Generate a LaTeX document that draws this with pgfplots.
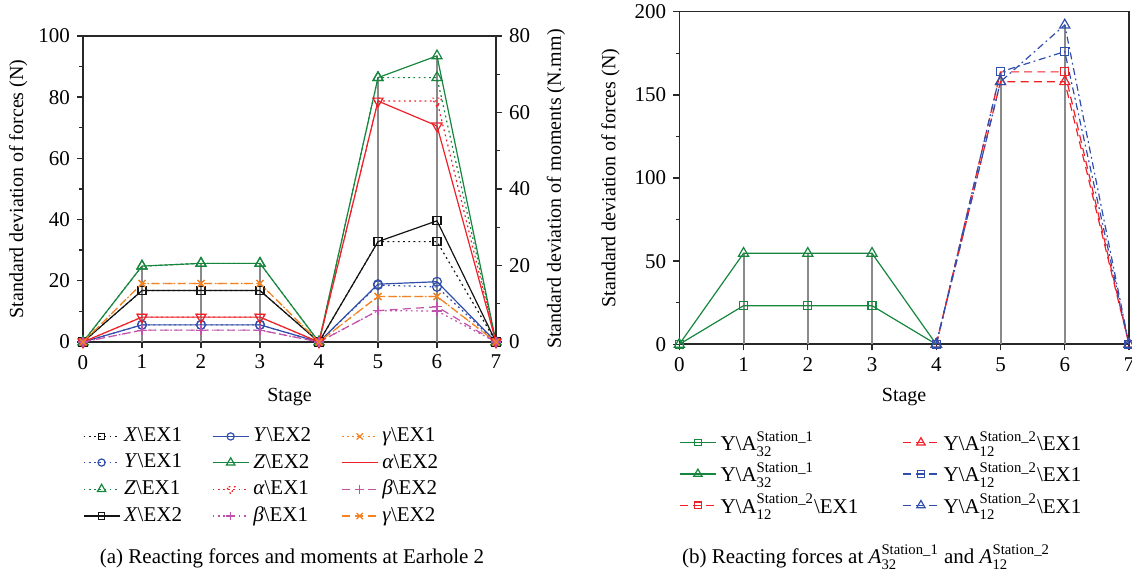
\documentclass[border=0pt]{standalone}
\usepackage{amsmath}
\usepackage{fontspec}
\setmainfont{Liberation Serif}
\usepackage{pgfplots}
\usepackage{pgfplotstable}
\pgfplotsset{compat=1.18}

\definecolor{cblack}{RGB}{20,20,20}
\definecolor{cblue}{RGB}{50,78,172}
\definecolor{cgreen}{RGB}{22,134,62}
\definecolor{cred}{RGB}{238,32,40}
\definecolor{corange}{RGB}{244,130,34}
\definecolor{cmagenta}{RGB}{192,82,172}
\definecolor{cstem}{RGB}{138,138,138}
\definecolor{caxis}{RGB}{40,40,40}

% Earhole 2: reacting forces (N)
\pgfplotstableread{
stage X1   Y1   Z1   X2   Y2   Z2
0     0    0    0    0    0    0
1     16.8 5.6  24.8 16.8 5.6  24.8
2     16.8 5.6  25.7 16.8 5.6  25.7
3     16.8 5.6  25.7 16.8 5.6  25.7
4     0    0    0    0    0    0
5     32.8 18.6 86.4 32.8 18.9 86.4
6     32.8 18.0 86.4 39.6 19.7 93.5
7     0    0    0    0    0    0
}\forces
% Earhole 2: reacting moments (N.mm)
\pgfplotstableread{
stage a1   b1  g1   a2   b2  g2
0     0    0   0    0    0   0
1     6.5  3.1 15.3 6.5  3.1 15.3
2     6.5  3.1 15.3 6.5  3.1 15.3
3     6.5  3.1 15.3 6.5  3.1 15.3
4     0    0   0    0    0   0
5     63.0 8.2 11.9 63.0 8.2 11.9
6     63.0 8.1 11.9 56.5 9.2 11.9
7     0    0   0    0    0   0
}\moments
% Station 1 (A32), stages 0-4
\pgfplotstableread{
stage sq   tri
0     0    0
1     23.2 54.7
2     23.2 54.7
3     23.2 54.7
4     0    0
}\stationone
% Station 2 (A12), stages 4-7
\pgfplotstableread{
stage rsq   rtri  bsq   btri
4     0     0     0     0
5     163.8 157.9 163.8 157.9
6     163.8 157.9 176.0 192.0
7     0     0     0     0
}\stationtwo

\newcommand{\fs}{\fontsize{10.5}{12.6}\selectfont}

\pgfplotsset{
  basestyle/.style={
    scale only axis,
    clip=false,
    axis line style={caxis, line width=0.8pt},
    tick style={caxis, line width=0.7pt},
    major tick length=3pt,
    minor tick length=1.8pt,
    tick align=outside,
    /pgf/number format/assume math mode=true,
    tick label style={font=\fs},
    label style={font=\fs},
    legend style={draw=none, fill=none, inner sep=0pt, outer sep=0pt, font=\fs,
      row sep=0.6pt},
    legend cell align=left,
    legend image code/.code={\draw[line width=0.6pt, mark repeat=2, mark phase=2, ##1]
      plot coordinates {(0pt,0pt) (9pt,0pt) (18pt,0pt)};},
    every axis plot/.append style={line width=0.6pt, mark options={solid}},
  },
  dotline/.style={dash pattern=on 0.9pt off 1.7pt},
  dashline/.style={dash pattern=on 4pt off 2.6pt},
  dashdotline/.style={dash pattern=on 3.5pt off 1.8pt on 0.9pt off 1.8pt},
}

\begin{document}
\begin{tikzpicture}
\useasboundingbox (0,0) rectangle (566pt,289pt);

%---------------- (a) forces, left scale ----------------
\begin{axis}[basestyle,
  at={(41.5pt,118pt)}, anchor=south west,
  width=206.5pt, height=153pt,
  xmin=0, xmax=7, ymin=0, ymax=100,
  xtick={0,...,7}, ytick={0,20,...,100}, minor y tick num=1,
  xtick pos=bottom, ytick pos=left,
  xlabel={Stage}, ylabel={Standard deviation of forces (N)},
  every axis x label/.style={at={(axis description cs:0.5,-0.18)}, anchor=center},
  every axis y label/.style={at={(axis description cs:-0.157,0.5)}, rotate=90, anchor=center},
]
\addplot[ycomb, cstem, line width=1pt, no markers, forget plot] table[x=stage, y=Z2] {\forces};
\addplot[cblack, dotline, mark=square, mark size=2pt, forget plot] table[x=stage, y=X1] {\forces};
\addplot[cblue, dotline, mark=o, mark size=2.2pt, forget plot] table[x=stage, y=Y1] {\forces};
\addplot[cgreen, dotline, mark=triangle, mark size=2.9pt, forget plot] table[x=stage, y=Z1] {\forces};
\addplot[cblack, mark=square, mark size=2pt, forget plot] table[x=stage, y=X2] {\forces};
\addplot[cblue, mark=o, mark size=2.2pt, forget plot] table[x=stage, y=Y2] {\forces};
\addplot[cgreen, mark=triangle, mark size=2.9pt, forget plot] table[x=stage, y=Z2] {\forces};
\end{axis}

%---------------- (a) moments, right scale ----------------
\begin{axis}[basestyle,
  at={(41.5pt,118pt)}, anchor=south west,
  width=206.5pt, height=153pt,
  xmin=0, xmax=7, ymin=0, ymax=80,
  axis x line=none, axis y line*=right,
  ytick={0,20,...,80}, minor y tick num=1,
  ylabel={Standard deviation of moments (N.mm)},
  every axis y label/.style={at={(axis description cs:1.145,0.5)}, rotate=90, anchor=center},
  legend columns=3,
  legend style={at={(axis description cs:0,-0.268)}, anchor=north west,
    /tikz/every even column/.append style={column sep=13pt}},
]
\addplot[cred, dotline, mark=triangle, mark size=2.9pt, mark options={rotate=180}, forget plot] table[x=stage, y=a1] {\moments};
\addplot[cmagenta, dotline, mark=+, mark size=2.4pt, forget plot] table[x=stage, y=b1] {\moments};
\addplot[corange, dotline, mark=x, mark size=2.4pt, forget plot] table[x=stage, y=g1] {\moments};
\addplot[cred, mark=triangle, mark size=2.9pt, mark options={rotate=180}, forget plot] table[x=stage, y=a2] {\moments};
\addplot[cmagenta, dashline, mark=+, mark size=2.4pt, forget plot] table[x=stage, y=b2] {\moments};
\addplot[corange, dashline, mark=x, mark size=2.4pt, forget plot] table[x=stage, y=g2] {\moments};

% legend, row by row
\addlegendimage{cblack, dotline, mark=square, mark size=1.6pt}
\addlegendentry{\textit{X}\textbackslash EX1}
\addlegendimage{cblue, mark=o, mark size=1.8pt}
\addlegendentry{\textit{Y}\textbackslash EX2}
\addlegendimage{corange, dotline, mark=x, mark size=2.2pt}
\addlegendentry{\textit{γ}\textbackslash EX1}
\addlegendimage{cblue, dotline, mark=o, mark size=1.8pt}
\addlegendentry{\textit{Y}\textbackslash EX1}
\addlegendimage{cgreen, mark=triangle, mark size=2.4pt}
\addlegendentry{\textit{Z}\textbackslash EX2}
\addlegendimage{cred, no markers}
\addlegendentry{\textit{α}\textbackslash EX2}
\addlegendimage{cgreen, dotline, mark=triangle, mark size=2.4pt}
\addlegendentry{\textit{Z}\textbackslash EX1}
\addlegendimage{cred, dotline, mark=triangle, mark size=2.4pt, mark options={rotate=180}}
\addlegendentry{\textit{α}\textbackslash EX1}
\addlegendimage{cmagenta, dashline, mark=+, mark size=2.2pt}
\addlegendentry{\textit{β}\textbackslash EX2}
\addlegendimage{cblack, mark=square, mark size=1.6pt}
\addlegendentry{\textit{X}\textbackslash EX2}
\addlegendimage{cmagenta, dotline, mark=+, mark size=2.2pt}
\addlegendentry{\textit{β}\textbackslash EX1}
\addlegendimage{corange, dashline, mark=x, mark size=2.2pt}
\addlegendentry{\textit{γ}\textbackslash EX2}
\end{axis}

%---------------- (b) stations ----------------
\begin{axis}[basestyle,
  at={(339.65pt,116.85pt)}, anchor=south west,
  width=224.85pt, height=166.3pt,
  xmin=0, xmax=7, ymin=0, ymax=200,
  xtick={0,...,7}, ytick={0,50,...,200}, minor y tick num=1,
  xtick pos=bottom, ytick pos=left,
  xlabel={Stage}, ylabel={Standard deviation of forces (N)},
  every axis x label/.style={at={(axis description cs:0.5,-0.16)}, anchor=center},
  every axis y label/.style={at={(axis description cs:-0.153,0.5)}, rotate=90, anchor=center},
  legend columns=2,
  legend style={at={(axis description cs:0,-0.25)}, anchor=north west,
    /tikz/every even column/.append style={column sep=20pt}},
]
\addplot[ycomb, cstem, line width=1pt, no markers, forget plot] table[x=stage, y=tri] {\stationone};
\addplot[ycomb, cstem, line width=1pt, no markers, forget plot] table[x=stage, y=bsq] {\stationtwo};
\addplot[ycomb, cstem, line width=1pt, no markers, forget plot] table[x=stage, y=btri] {\stationtwo};
\addplot[cgreen, mark=square, mark size=2pt, forget plot] table[x=stage, y=sq] {\stationone};
\addplot[cgreen, mark=triangle, mark size=2.9pt, forget plot] table[x=stage, y=tri] {\stationone};
\addplot[cred, dashline, mark=square, mark size=2pt, forget plot] table[x=stage, y=rsq] {\stationtwo};
\addplot[cred, dashline, mark=triangle, mark size=2.9pt, forget plot] table[x=stage, y=rtri] {\stationtwo};
\addplot[cblue, dashdotline, mark=square, mark size=2pt, forget plot] table[x=stage, y=bsq] {\stationtwo};
\addplot[cblue, dashdotline, mark=triangle, mark size=2.9pt, forget plot] table[x=stage, y=btri] {\stationtwo};

\addlegendimage{cgreen, mark=square, mark size=1.6pt}
\addlegendentry{Y\textbackslash A$^{\text{Station\_1}}_{\text{32}}$}
\addlegendimage{cred, dashline, mark=triangle, mark size=2.4pt}
\addlegendentry{Y\textbackslash A$^{\text{Station\_2}}_{\text{12}}$\textbackslash EX1}
\addlegendimage{cgreen, mark=triangle, mark size=2.4pt}
\addlegendentry{Y\textbackslash A$^{\text{Station\_1}}_{\text{32}}$}
\addlegendimage{cblue, dashline, mark=square, mark size=1.6pt}
\addlegendentry{Y\textbackslash A$^{\text{Station\_2}}_{\text{12}}$\textbackslash EX1}
\addlegendimage{cred, dashline, mark=square, mark size=1.6pt}
\addlegendentry{Y\textbackslash A$^{\text{Station\_2}}_{\text{12}}$\textbackslash EX1}
\addlegendimage{cblue, dashline, mark=triangle, mark size=2.4pt}
\addlegendentry{Y\textbackslash A$^{\text{Station\_2}}_{\text{12}}$\textbackslash EX1}
\end{axis}

% sub-figure captions
\node[font=\fs] at (146pt,10pt) {(a) Reacting forces and moments at Earhole 2};
\node[font=\fs] at (433pt,10.5pt) {(b) Reacting forces at \textit{A}$^{\text{Station\_1}}_{\text{32}}$ and \textit{A}$^{\text{Station\_2}}_{\text{12}}$};
\end{tikzpicture}
\end{document}
